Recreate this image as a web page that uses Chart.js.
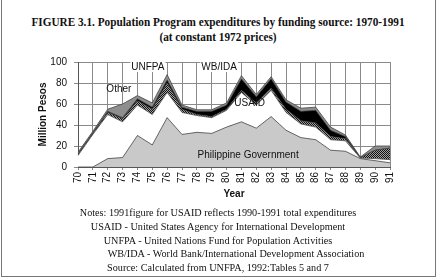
<!DOCTYPE html>
<html>
<head>
<meta charset="utf-8">
<script src="https://cdn.jsdelivr.net/npm/chart.js@4.4.0/dist/chart.umd.min.js"></script>
<style>
  html, body { margin: 0; padding: 0; background: #fff; }
  #wrap { position: relative; width: 444px; height: 278px; overflow: hidden; }
  #frame { position: absolute; left: 1px; top: -2px; width: 433px; height: 277px; border: 1px solid #777; }
  #chart { position: absolute; left: 0; top: 0; }
  .t { position: absolute; left: 0; width: 436px; text-align: center; white-space: nowrap;
       font-family: "Liberation Serif", "Times New Roman", serif; color: #111; }
  .title { font-size: 12.5px; font-weight: bold; line-height: 15px; transform: scaleX(0.9); transform-origin: 218px 0; }
  .notes { font-size: 10.2px; line-height: 13.75px; }
</style>
</head>
<body>
<div id="wrap">
  <div id="frame"></div>
  <div class="t title" style="top:15px">FIGURE 3.1. Population Program expenditures by funding source: 1970-1991</div>
  <div class="t title" style="top:30px">(at constant 1972 prices)</div>
  <canvas id="chart" width="444" height="278"></canvas>
  <div class="t notes" style="top:206px">
    Notes: 1991figure for USAID reflects 1990-1991 total expenditures<br>
    USAID - United States Agency for International Development<br>
    UNFPA - United Nations Fund for Population Activities<br>
    <span style="padding-left:36px">WB/IDA - World Bank/International Development Association</span><br>
    Source: Calculated from UNFPA, 1992:Tables 5 and 7
  </div>
</div>
<script>
  // years 1970-1991
  const years = ['70','71','72','73','74','75','76','77','78','79','80','81','82','83','84','85','86','87','88','89','90','91'];

  // million pesos, stacked from the bottom up
  const philGov = [0, 0, 8, 9, 30, 21, 47, 31, 33, 32, 38, 43, 37, 48, 35, 28, 26, 16, 15, 8, 6, 4];
  const usaid   = [11, 31, 42, 34, 29, 29, 24, 21, 16, 15, 16, 28, 22, 25, 17, 13, 12, 10, 10, 0.5, 2, 3];
  const unfpa   = [1, 1, 2, 3, 4, 5, 9, 3, 1, 1, 1, 2, 2, 2, 3, 3, 4, 3, 2, 0.3, 8, 11];
  const wbIda   = [0.5, 0.5, 1, 1, 2, 2, 3, 2, 3, 5, 4, 11, 6, 9, 7, 9, 12, 6, 2, 0.2, 0, 0];
  const other   = [1.5, 1.5, 2, 13, 3, 4, 5, 2, 1.5, 1.5, 2, 3, 2, 2, 2, 3, 3, 3, 1.5, 0.5, 4, 2];

  const yTicks = [0, 20, 40, 60, 80, 100];

  // text written inside the plot, anchored at (category index, value)
  const areaLabels = [
    { text: 'UNFPA', at: 4.7, value: 95.2, box: true },
    { text: 'WB/IDA', at: 9.5, value: 95.2, box: true },
    { text: 'Other', at: 2.75, value: 74 },
    { text: 'USAID', at: 11.55, value: 61 },
    { text: 'Philippine Government', at: 11.45, value: 11.5 }
  ];

  const canvas = document.getElementById('chart');
  const ctx = canvas.getContext('2d');

  // checkered fill for UNFPA
  function checker() {
    const c = document.createElement('canvas');
    c.width = 2; c.height = 2;
    const g = c.getContext('2d');
    g.fillStyle = '#a0a0a0'; g.fillRect(0, 0, 2, 2);
    g.fillStyle = '#111'; g.fillRect(0, 0, 1, 1); g.fillRect(1, 1, 1, 1);
    return ctx.createPattern(c, 'repeat');
  }

  const sans = '"Liberation Sans", Arial, sans-serif';

  function layer(label, data, bg, fill) {
    return { label, data, backgroundColor: bg, borderColor: '#444', borderWidth: 0.8,
             fill, pointRadius: 0, tension: 0 };
  }

  const labelPlugin = {
    id: 'areaLabels',
    afterDatasetsDraw(chart) {
      const c = chart.ctx, xs = chart.scales.x, ys = chart.scales.y;
      c.save();
      c.font = '10px ' + sans;
      c.textAlign = 'center';
      c.textBaseline = 'middle';
      areaLabels.forEach(l => {
        const x = xs.getPixelForValue(l.at), y = ys.getPixelForValue(l.value);
        if (l.box) {
          const w = c.measureText(l.text).width;
          c.fillStyle = '#fff';
          c.fillRect(x - w / 2 - 1, y - 6, w + 2, 11);
        }
        c.fillStyle = '#111';
        c.fillText(l.text, x, y);
      });
      c.restore();
    }
  };

  new Chart(ctx, {
    type: 'line',
    data: {
      labels: years,
      datasets: [
        layer('Philippine Government', philGov, '#c9c9c9', 'origin'),
        layer('USAID', usaid, '#ffffff', '-1'),
        layer('UNFPA', unfpa, checker(), '-1'),
        layer('WB/IDA', wbIda, '#000000', '-1'),
        layer('Other', other, '#8e8e8e', '-1')
      ]
    },
    options: {
      responsive: false,
      animation: false,
      layout: { padding: { left: 0, right: 54, top: 62, bottom: 78 } },
      plugins: { legend: { display: false }, tooltip: { enabled: false } },
      scales: {
        x: {
          grid: { color: '#8a8a8a', tickLength: 3 },
          border: { color: '#555' },
          ticks: { font: { family: sans, size: 10 }, color: '#111', minRotation: 90, maxRotation: 90,
                   padding: 2, autoSkip: false },
          title: { display: true, text: 'Year', color: '#111', padding: 0,
                   font: { family: sans, size: 10, weight: 'bold' } },
          afterFit(s) { s.height = 33; }
        },
        y: {
          stacked: true,
          min: 0,
          max: 100,
          grid: { color: '#8a8a8a', tickLength: 4 },
          border: { color: '#555' },
          afterBuildTicks(s) { s.ticks = yTicks.map(v => ({ value: v })); },
          ticks: { font: { family: sans, size: 10 }, color: '#111', padding: 7 },
          title: { display: true, text: 'Million Pesos', color: '#111', padding: { top: 37, bottom: 0 },
                   font: { family: sans, size: 10, weight: 'bold' } },
          afterFit(s) { s.width = 78; }
        }
      }
    },
    plugins: [labelPlugin]
  });
</script>
</body>
</html>
